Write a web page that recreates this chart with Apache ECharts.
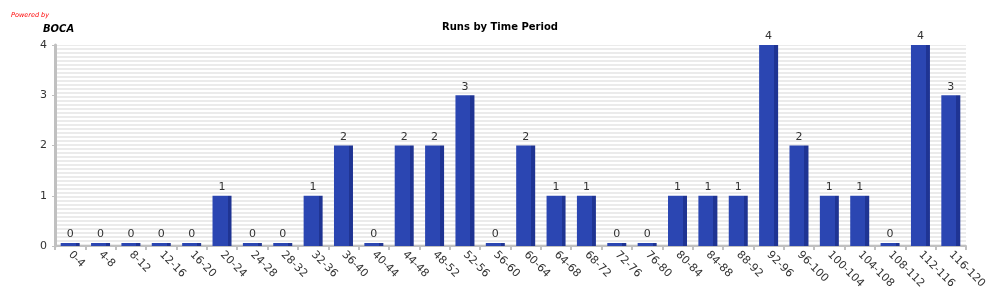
<!DOCTYPE html>
<html><head><meta charset="utf-8">
<script src="https://cdn.jsdelivr.net/npm/echarts@6/dist/echarts.min.js"></script>
<style>html,body{margin:0;padding:0;background:#fff}#c{width:1000px;height:300px}</style>
</head><body><div id="c"></div>
<script>
const categories = ['0-4','4-8','8-12','12-16','16-20','20-24','24-28','28-32','32-36','36-40','40-44','44-48','48-52','52-56','56-60','60-64','64-68','68-72','72-76','76-80','80-84','84-88','88-92','92-96','96-100','100-104','104-108','108-112','112-116','116-120'];
const runs = [0,0,0,0,0,1,0,0,1,2,0,2,2,3,0,2,1,1,0,0,1,1,1,4,2,1,1,0,4,3];
const yTicks = [0,1,2,3,4];

const pc = document.createElement('canvas');
pc.width = 4; pc.height = 4;
const pctx = pc.getContext('2d');
pctx.fillStyle = '#ffffff'; pctx.fillRect(0,0,4,4);
pctx.fillStyle = '#ebebeb'; pctx.fillRect(0,0,4,2);

const chart = echarts.init(document.getElementById('c'), null, {renderer:'canvas'});
chart.setOption({
  animation: false,
  title: [
    {text:'Runs by Time Period', left:'center', top:17, textStyle:{fontFamily:'DejaVu Sans', fontSize:10, fontWeight:'bold', color:'#000'}},
    {text:'BOCA', left:38, top:19, textStyle:{fontFamily:'DejaVu Sans', fontSize:10, fontWeight:'bold', fontStyle:'italic', color:'#000'}},
    {text:'Powered by', left:6, top:7, textStyle:{fontFamily:'DejaVu Sans', fontSize:6.5, fontStyle:'italic', color:'#ff0000', fontWeight:'normal'}}
  ],
  grid: {left:55, right:34, top:45, bottom:54, show:true, borderWidth:0, backgroundColor:{image:pc, repeat:'repeat'}},
  xAxis: {
    type:'category', data:categories,
    axisLine:{lineStyle:{color:'#c0c0c0', width:2}},
    axisTick:{show:true, alignWithLabel:false, length:4, lineStyle:{color:'#c0c0c0', width:2}},
    axisLabel:{rotate:-45, fontFamily:'DejaVu Sans', fontSize:11, color:'#333', margin:7, interval:0}
  },
  yAxis: {
    type:'value', min:yTicks[0], max:yTicks[yTicks.length-1], interval:1,
    axisLine:{show:true, lineStyle:{color:'#c0c0c0', width:3}},
    axisTick:{show:true, length:3, lineStyle:{color:'#c0c0c0'}},
    splitLine:{show:false},
    axisLabel:{fontFamily:'DejaVu Sans', fontSize:11, color:'#333', margin:8}
  },
  series: [{
    type:'bar', data:runs, barWidth:19, barMinHeight:3,
    itemStyle:{color:new echarts.graphic.LinearGradient(0,0,1,0,[
      {offset:0,color:'#2b46b2'},{offset:0.79,color:'#2b46b2'},{offset:0.79,color:'#1f3493'},{offset:1,color:'#1f3493'}])},
    label:{show:true, position:'top', distance:3, fontFamily:'DejaVu Sans', fontSize:11, color:'#333'}
  }]
});
</script></body></html>
